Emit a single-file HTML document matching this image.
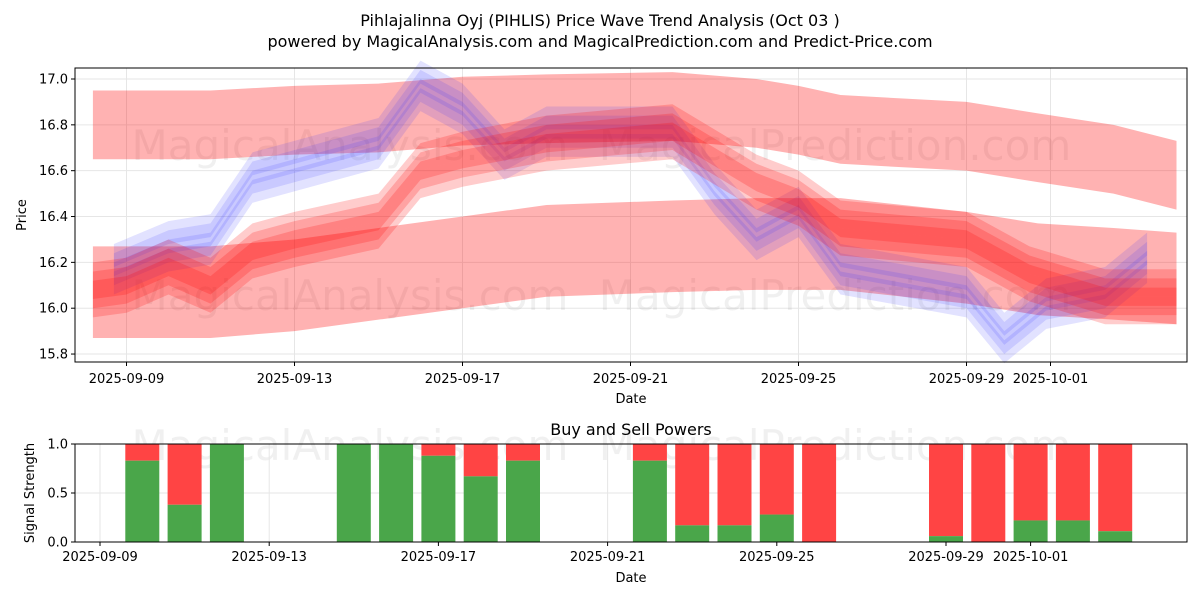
<!DOCTYPE html>
<html><head><meta charset="utf-8"><style>
body{margin:0;background:#fff;font-family:"Liberation Sans","DejaVu Sans",sans-serif}
svg text{font-family:"DejaVu Sans","Liberation Sans",sans-serif}
</style></head><body>
<svg id="c" width="1200" height="600" xmlns="http://www.w3.org/2000/svg">
<text x="600" y="26" text-anchor="middle" font-size="16">Pihlajalinna Oyj (PIHLIS) Price Wave Trend Analysis (Oct 03 )</text>
<text x="600" y="47" text-anchor="middle" font-size="16">powered by MagicalAnalysis.com and MagicalPrediction.com and Predict-Price.com</text>
<g id="top"></g><g id="bot"></g>
</svg>
<script>
// --- data ---
const priceTicks=[15.8,16.0,16.2,16.4,16.6,16.8,17.0];
const dateTicks=["2025-09-09","2025-09-13","2025-09-17","2025-09-21","2025-09-25","2025-09-29","2025-10-01"];
const dateTickDays=[0,4,8,12,16,20,22];
const redDays=[-0.8,0,2,4,6,8,10,13,15,16,17,20,21.7,23.5,25];
const redTop=[16.8,16.8,16.8,16.82,16.83,16.86,16.87,16.88,16.85,16.82,16.78,16.75,16.7,16.65,16.58];
const redBottom=[16.07,16.07,16.07,16.1,16.15,16.2,16.25,16.27,16.28,16.28,16.28,16.22,16.17,16.15,16.13];
const redMidDays=[-0.8,0,1,2,3,4,6,7,8,10,13,15,16,17,20,21.5,23.3,25];
const redMid=[16.08,16.1,16.18,16.1,16.25,16.3,16.38,16.6,16.65,16.72,16.77,16.55,16.48,16.35,16.3,16.15,16.05,16.05];
const blueDays=[-0.3,1,2,3,6,7,8,9,10,13,14,15,16,17,20,20.9,21.9,23.3,24.3];
const blueMid=[16.15,16.25,16.28,16.55,16.7,16.95,16.85,16.65,16.75,16.75,16.5,16.3,16.4,16.15,16.05,15.85,16.0,16.05,16.2];
const buyDays=[1,2,3,6,7,8,9,10,13,14,15,16,17,20,21,22,23,24];
const buyPower=[0.83,0.38,1.0,1.0,1.0,0.88,0.67,0.83,0.83,0.17,0.17,0.28,0,0.06,0,0.22,0.22,0.11];
const strengthTicks=[0,0.5,1.0];
// --- axes ---
const NS="http://www.w3.org/2000/svg";
const T={l:75,r:1187,t:68,b:362};
const B={l:75,r:1187,t:444,b:542};
const xT=d=>126.5+42*d, yT=v=>79+(17-v)*229.2;
const xB=d=>100+42.3*d, yB=v=>542-v*98;
function mk(p,tag,at,txt){const e=document.createElementNS(NS,tag);for(const k in at)e.setAttribute(k,at[k]);if(txt!=null)e.textContent=txt;p.appendChild(e);return e;}
const topG=document.getElementById('top'),botG=document.getElementById('bot');
priceTicks.forEach(v=>{const y=yT(v);
 const g=mk(topG,'line',{x1:T.l,x2:T.r,y1:y,y2:y,stroke:'#e6e6e6'});
 
 
 mk(topG,'line',{x1:T.l-4,x2:T.l,y1:y,y2:y,stroke:'#000'});
 const t=mk(topG,'text',{x:T.l-7,y:y+4.5,'text-anchor':'end','font-size':13},v.toFixed(1));
 
 });
dateTickDays.forEach((d,i)=>{const x=xT(d);
 mk(topG,'line',{x1:x,x2:x,y1:T.t,y2:T.b,stroke:'#e6e6e6'});
 mk(topG,'line',{x1:x,x2:x,y1:T.b,y2:T.b+4,stroke:'#000'});
 const t=mk(topG,'text',{x:x,y:T.b+21,'text-anchor':'middle','font-size':13},dateTicks[i]);
 
 });
[[topG,350,160],[topG,835,160],[topG,350,310],[topG,835,310],[botG,350,460],[botG,835,460]].forEach(([p,x,y],i)=>{const t=mk(p,'text',{x:x,y:y,'text-anchor':'middle','font-size':42,fill:'#000','fill-opacity':0.06},i%2?'MagicalPrediction.com':'MagicalAnalysis.com');
 
 });
function band(days,vals,off,half,color,op,name){
 let up=days.map((d,i)=>xT(d)+','+yT(vals[i]+off+half));
 let dn=days.map((d,i)=>xT(d)+','+yT(vals[i]+off-half)).reverse();
 const p=mk(topG,'polygon',{points:up.concat(dn).join(' '),fill:color,'fill-opacity':op});
 
 }
band(redDays,redTop,0,0.15,'#ff0000',0.3,'red-band-upper');
band(redDays,redBottom,0,0.2,'#ff0000',0.3,'red-band-lower');
[-0.04,0,0.04,0.08].forEach(o=>band(blueDays,blueMid,o,0.05,'#3333ff',0.14,'blue-band'));
[-0.06,-0.02,0.02,0.06].forEach(o=>band(redMidDays,redMid,o,0.06,'#ff0000',0.2,'red-band-mid'));
mk(topG,'rect',{x:T.l,y:T.t,width:T.r-T.l,height:T.b-T.t,fill:'none',stroke:'#000'});
let t=mk(topG,'text',{x:631,y:403,'text-anchor':'middle','font-size':13},'Date');


t=mk(topG,'text',{x:26,y:215,'text-anchor':'middle','font-size':13,transform:'rotate(-90 26 215)'},'Price');


t=mk(botG,'text',{x:631,y:435,'text-anchor':'middle','font-size':16},'Buy and Sell Powers');


strengthTicks.forEach(v=>{const y=yB(v);
 mk(botG,'line',{x1:B.l,x2:B.r,y1:y,y2:y,stroke:'#e6e6e6'});
 mk(botG,'line',{x1:B.l-4,x2:B.l,y1:y,y2:y,stroke:'#000'});
 const t=mk(botG,'text',{x:B.l-7,y:y+4.5,'text-anchor':'end','font-size':13},v.toFixed(1));
 
 });
dateTickDays.forEach((d,i)=>{const x=xB(d);
 mk(botG,'line',{x1:x,x2:x,y1:B.t,y2:B.b,stroke:'#e6e6e6'});
 mk(botG,'line',{x1:x,x2:x,y1:B.b,y2:B.b+4,stroke:'#000'});
 const t=mk(botG,'text',{x:x,y:B.b+19,'text-anchor':'middle','font-size':13},dateTicks[i]);
 
 });
buyDays.forEach((d,i)=>{const x=xB(d)-17,v=buyPower[i];
 const r=mk(botG,'rect',{x:x,y:yB(1),width:34,height:yB(v)-yB(1),fill:'#ff4444'});
 
 
 const g=mk(botG,'rect',{x:x,y:yB(v),width:34,height:yB(0)-yB(v),fill:'#4aa64a'});
 
 });
mk(botG,'rect',{x:B.l,y:B.t,width:B.r-B.l,height:B.b-B.t,fill:'none',stroke:'#000'});
t=mk(botG,'text',{x:631,y:582,'text-anchor':'middle','font-size':13},'Date');


t=mk(botG,'text',{x:34,y:493,'text-anchor':'middle','font-size':13,transform:'rotate(-90 34 493)'},'Signal Strength');


</script>
</body></html>
